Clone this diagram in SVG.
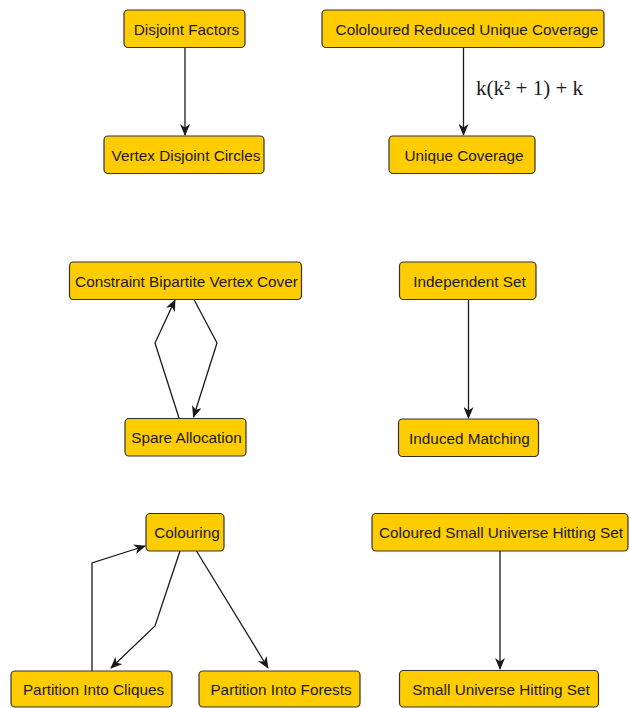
<svg xmlns="http://www.w3.org/2000/svg" width="630" height="708" viewBox="0 0 630 708">
  <style>
    .box rect { fill: #ffcc00; stroke: #333333; stroke-width: 1.2; }
    .box text { font-family: "Liberation Sans", Arial, sans-serif; font-size: 15.3px; fill: #1a1a1a; text-anchor: middle; }
    .edge { fill: none; stroke: #1a1a1a; stroke-width: 1.3; marker-end: url(#arrow); }
    .lbl { font-family: "Liberation Serif", "Times New Roman", serif; font-size: 21px; fill: #1a1a1a; }
  </style>
  <defs>
    <marker id="arrow" viewBox="0 0 12 10" refX="11" refY="5" markerWidth="12" markerHeight="10" markerUnits="userSpaceOnUse" orient="auto">
      <path d="M0,0 L12,5 L0,10 L3.5,5 Z" fill="#1a1a1a"/>
    </marker>
  </defs>
  <rect width="630" height="708" fill="#ffffff"/>

  <!-- connectors -->
  <g id="connectors">
    <path class="edge" d="M185,47.5 L185,135"/>
    <path class="edge" d="M463.5,47.5 L463.5,135"/>
    <text class="lbl" x="476" y="95">k(k² + 1) + k</text>
    <path class="edge" d="M179,418 L155,343 L175,300"/>
    <path class="edge" d="M194,299.5 L217,343 L193.5,417"/>
    <path class="edge" d="M468.5,299.5 L468.5,418"/>
    <path class="edge" d="M92,671 L92,563 L145,546"/>
    <path class="edge" d="M180,551 L155,626 L111,668"/>
    <path class="edge" d="M196.5,551 L268,668"/>
    <path class="edge" d="M500,551 L500,669"/>
  </g>

  <!-- nodes -->
  <g id="disjoint-factors" class="box">
    <rect x="124" y="10" width="121" height="37.5" rx="4"/>
    <text x="186.5" y="34.5">Disjoint Factors</text>
  </g>
  <g id="vertex-disjoint-circles" class="box">
    <rect x="104" y="136" width="160" height="37.5" rx="4"/>
    <text x="186" y="160.5">Vertex Disjoint Circles</text>
  </g>
  <g id="cololoured-reduced-unique-coverage" class="box">
    <rect x="322" y="10" width="282" height="37.5" rx="4"/>
    <text x="467" y="34.5">Cololoured Reduced Unique Coverage</text>
  </g>
  <g id="unique-coverage" class="box">
    <rect x="389" y="136" width="146" height="37.5" rx="4"/>
    <text x="464" y="160.5">Unique Coverage</text>
  </g>
  <g id="constraint-bipartite-vertex-cover" class="box">
    <rect x="69.5" y="262" width="232" height="37.5" rx="4"/>
    <text x="186.5" y="286.5">Constraint Bipartite Vertex Cover</text>
  </g>
  <g id="spare-allocation" class="box">
    <rect x="125" y="418.5" width="121" height="37.5" rx="4"/>
    <text x="186.5" y="443">Spare Allocation</text>
  </g>
  <g id="independent-set" class="box">
    <rect x="399.5" y="262" width="136.5" height="37.5" rx="4"/>
    <text x="469.5" y="286.5">Independent Set</text>
  </g>
  <g id="induced-matching" class="box">
    <rect x="398.5" y="419" width="140" height="37.5" rx="4"/>
    <text x="469.5" y="443.5">Induced Matching</text>
  </g>
  <g id="colouring" class="box">
    <rect x="146" y="513.5" width="78" height="37.5" rx="4"/>
    <text x="187" y="538">Colouring</text>
  </g>
  <g id="coloured-small-universe-hitting-set" class="box">
    <rect x="372" y="513.5" width="256" height="37.5" rx="4"/>
    <text x="501" y="538">Coloured Small Universe Hitting Set</text>
  </g>
  <g id="partition-into-cliques" class="box">
    <rect x="11" y="671" width="161" height="36" rx="4"/>
    <text x="93.5" y="694.5">Partition Into Cliques</text>
  </g>
  <g id="partition-into-forests" class="box">
    <rect x="199" y="671" width="161" height="36" rx="4"/>
    <text x="281" y="694.5">Partition Into Forests</text>
  </g>
  <g id="small-universe-hitting-set" class="box">
    <rect x="399.5" y="670.5" width="199" height="36.5" rx="4"/>
    <text x="501" y="694.5">Small Universe Hitting Set</text>
  </g>
</svg>
